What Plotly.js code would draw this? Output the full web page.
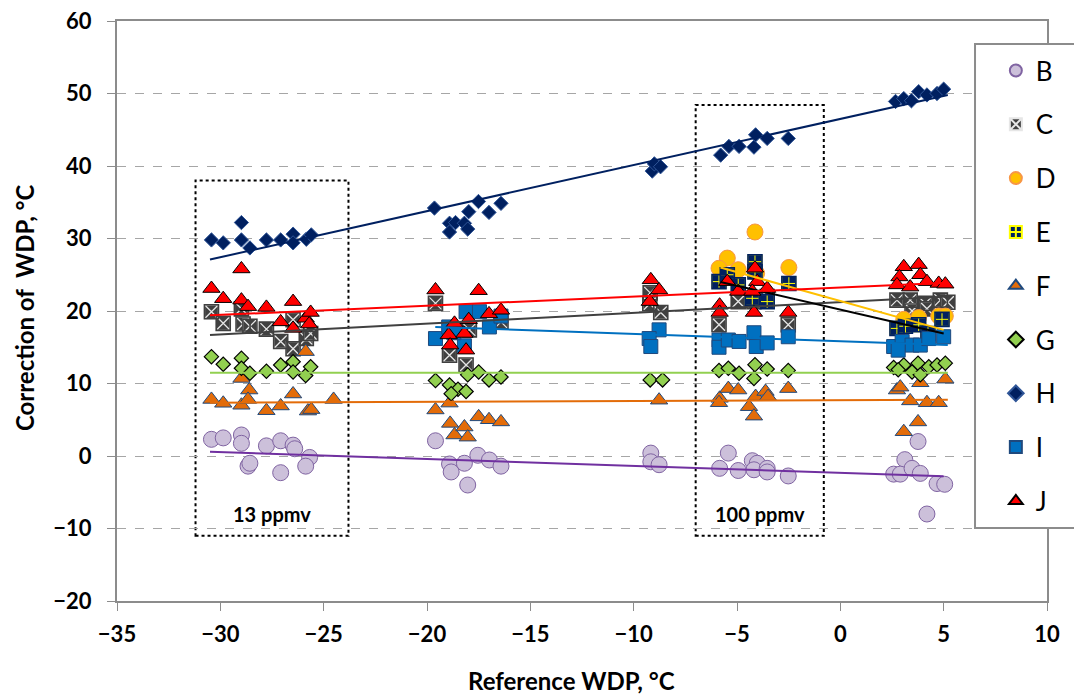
<!DOCTYPE html>
<html><head><meta charset="utf-8">
<script src="https://cdn.plot.ly/plotly-3.0.1.min.js"></script>
<style>body{margin:0;background:#fff}#chart{width:1074px;height:699px}</style>
</head><body><div id="chart"></div>
<script>
// ---- data ----
const seriesNames = ['B','C','D','E','F','G','H','I','J'];

const bX = [-30.43,-29.86,-28.98,-28.98,-28.66,-28.57,-27.77,-27.08,-26.48,-26.4,-25.68,-25.87,-27.08,
            -19.59,-18.91,-18.83,-18.19,-18.03,-17.54,-16.98,-16.42,
            -9.17,-9.17,-8.77,
            -5.42,-5.84,-4.94,-4.26,-4.02,-4.18,-3.54,-3.54,-2.52,
            3.76,3.12,2.58,2.9,3.47,3.87,4.68,5.05,4.19];
const bY = [2.3,2.5,2.9,1.75,-1.4,-1.0,1.4,2.1,1.5,1.0,-0.2,-1.4,-2.3,
            2.1,-1.1,-2.2,-1.0,-4.0,0.1,-0.55,-1.4,
            0.4,-0.8,-1.2,
            0.4,-1.7,-2.0,-0.65,-1.0,-1.9,-1.7,-2.2,-2.75,
            2.0,-0.5,-2.5,-2.5,-1.7,-2.4,-3.8,-3.9,-8.0];

const cX = [-30.43,-29.86,-28.98,-28.9,-28.57,-27.77,-27.08,-26.48,-26.48,-25.84,-25.63,
            -19.59,-16.42,-17.95,-18.91,-18.11,
            -9.2,-9.22,-8.69,
            -4.94,-5.87,-2.52,-4.18,-3.54,
            2.74,3.38,4.11,4.84,5.2,3.47,4.19];
const cY = [19.9,18.3,20.3,18.2,17.9,17.5,15.8,18.8,14.8,16.2,16.9,
            21.05,18.5,17.4,13.9,12.55,
            22.5,21.0,19.8,
            21.3,18.1,18.1,21.3,22.0,
            21.5,21.5,21.05,21.5,21.2,20.0,20.3];

const dX = [-4.13,-5.47,-5.87,-4.94,-2.49,-4.05, 3.07,3.79,4.76,5.08];
const dY = [30.9,27.3,25.9,25.7,26.0,25.2, 18.85,19.1,19.3,19.3];

const eX = [-5.87,-5.47,-4.94,-4.13,-4.13,-4.26,-3.54,-2.49, 2.74,3.15,3.79,4.24,4.92];
const eY = [24.05,25.0,23.6,26.8,25.4,21.75,21.3,23.8, 17.6,17.9,18.1,16.9,18.85];

const fX = [-30.43,-29.86,-28.98,-28.98,-28.6,-28.66,-27.77,-27.08,-26.48,-25.76,-25.6,-24.52,-25.87,
            -19.59,-18.91,-18.88,-18.67,-18.19,-18.03,-17.5,-17.0,-16.42,
            -8.77,
            -5.84,-5.87,-5.42,-4.94,-4.42,-4.18,-4.1,-3.62,-3.5,-2.52,
            2.74,2.9,3.38,4.19,4.76,5.08,3.87,3.07,3.76];
const fY = [7.8,7.27,10.7,7.0,9.1,7.8,6.25,6.9,8.55,6.2,6.4,7.8,14.4,
            6.35,7.3,4.5,2.9,4.0,2.6,5.4,5.0,4.7,
            7.7,
            7.96,7.35,9.3,9.1,6.8,5.5,8.2,8.9,8.2,9.3,
            9.1,9.5,7.6,7.35,7.35,10.6,10.1,3.35,4.7];

const gX = [-30.43,-29.86,-28.98,-28.98,-28.57,-27.77,-27.08,-26.48,-26.48,-25.87,-25.63,
            -19.59,-18.91,-18.5,-18.83,-18.11,-18.03,-17.5,-17.0,-16.42,
            -9.2,-8.6,
            -5.87,-5.42,-4.9,-4.13,-4.18,-3.54,-2.52,
            2.58,3.07,3.47,3.76,3.87,4.28,4.68,5.08,2.8];
const gY = [13.7,12.65,13.5,12.1,11.4,11.7,12.55,13.0,11.6,11.1,12.3,
            10.4,9.8,9.2,8.6,8.9,11.2,11.6,10.5,10.9,
            10.5,10.5,
            11.8,12.1,11.4,12.6,10.7,12.0,11.8,
            12.2,12.55,11.6,12.8,11.2,12.3,12.55,12.8,11.9];

const hX = [-30.43,-29.86,-28.98,-28.98,-28.57,-27.77,-27.08,-26.48,-26.48,-25.84,-25.6,
            -19.64,-18.91,-18.62,-18.91,-18.19,-18.03,-17.98,-17.51,-17.0,-16.42,
            -9.1,-9.0,-8.7,
            -5.79,-5.39,-4.9,-4.18,-4.1,-3.54,-2.52,
            2.67,3.07,3.44,3.79,4.19,4.68,5.0];
const hY = [29.8,29.4,32.2,29.8,28.7,29.8,29.8,30.6,29.4,29.9,30.5,
            34.2,32.1,32.2,30.9,32.1,31.3,33.7,35.1,33.6,34.85,
            39.3,40.3,39.9,
            41.5,42.7,42.7,42.6,44.3,43.8,43.8,
            48.9,49.3,49.0,50.25,49.8,50.0,50.6];

const iX = [-19.59,-18.95,-18.11,-17.46,-16.98,-16.42,-18.19,-18.7,
            -8.77,-9.25,-9.17,
            -5.87,-5.87,-5.42,-4.9,-4.18,-4.07,-3.54,-2.52,
            2.58,2.99,3.47,3.87,4.28,5.0,2.8];
const iY = [16.2,17.8,19.9,19.9,17.8,19.3,15.2,17.0,
            17.4,16.2,15.1,
            16.0,15.0,16.0,15.8,17.0,15.1,15.6,16.45,
            15.1,15.8,15.3,15.3,16.2,16.45,14.6];

const jX = [-30.43,-29.86,-28.98,-28.98,-28.66,-27.77,-27.08,-26.48,-26.48,-25.87,-25.63,-25.7,
            -19.59,-17.5,-18.67,-17.98,-17.0,-16.42,-18.95,-18.19,-18.88,-18.11,
            -9.17,-8.77,-9.22,
            -5.47,-4.94,-4.13,-4.02,-3.54,-5.84,-5.84,-4.18,-2.52,-4.26,
            3.07,3.79,2.86,3.87,2.74,3.38,4.19,4.76,5.08];
const jY = [23.1,21.7,25.8,21.5,20.6,20.5,18.5,21.3,17.6,19.0,19.8,18.2,
            22.9,22.8,18.3,18.8,19.6,20.1,16.7,16.9,15.3,14.6,
            24.3,22.9,21.3,
            24.05,22.7,25.9,24.05,23.1,20.8,19.8,19.8,19.8,22.7,
            26.1,26.4,24.7,25.0,23.6,23.3,24.05,23.8,23.7];

// trend line end points
const trendB = {x:[-30.5,5.0], y:[0.6,-2.8]};
const trendC = {x:[-30.5,5.2], y:[16.7,22.0]};
const trendD = {x:[-5.8,5.0],  y:[26.0,17.4]};
const trendE = {x:[-5.8,5.0],  y:[24.0,16.9]};
const trendF = {x:[-30.5,5.2], y:[7.35,7.75]};
const trendG = {x:[-30.5,5.2], y:[11.5,11.5]};
const trendH = {x:[-30.5,5.2], y:[27.1,49.8]};
const trendI = {x:[-19.6,5.2], y:[17.8,15.3]};
const trendJ = {x:[-30.5,5.2], y:[19.4,23.9]};

const boxLabels = ['13 ppmv','100 ppmv'];
const xTitle = 'Reference WDP, °C';
const yTitle = 'Correction of\u00a0 WDP, °C';

// ---- styles ----
const FONT = 'Lato, "Open Sans", sans-serif';
const styles = {
  B:{symbol:'circle', size:16, color:'#ccc0da', line:'#8064a2', lw:1},
  C:{symbol:'square-x', size:14, color:'#404040', line:'#e6e6e6', lw:1.3, frame:'#404040'},
  D:{symbol:'circle', size:16, color:'#ffc000', line:'#f79646', lw:1},
  E:{symbol:'square-cross', size:14, color:'#002060', line:'#ffff00', lw:1, frame:'#002060'},
  F:{symbol:'triangle-up', size:15, color:'#e36c09', line:'#1f497d', lw:1},
  G:{symbol:'diamond', size:11, color:'#92d050', line:'#000000', lw:1.2},
  H:{symbol:'diamond', size:11, color:'#002060', line:'#2f5597', lw:1},
  I:{symbol:'square', size:14, color:'#0070c0', line:'#1f497d', lw:1},
  J:{symbol:'triangle-up', size:15, color:'#ff0000', line:'#000000', lw:1}
};
const lineColors = {B:'#7030a0',C:'#404040',D:'#ffc000',E:'#000000',F:'#e36c09',G:'#92d050',H:'#002060',I:'#0070c0',J:'#ff0000'};
const pts = {B:[bX,bY],C:[cX,cY],D:[dX,dY],E:[eX,eY],F:[fX,fY],G:[gX,gY],H:[hX,hY],I:[iX,iY],J:[jX,jY]};
const trends = {B:trendB,C:trendC,D:trendD,E:trendE,F:trendF,G:trendG,H:trendH,I:trendI,J:trendJ};

const traces = [];
seriesNames.forEach(n => {
  const s = styles[n];
  traces.push({
    type:'scatter', mode:'markers', name:n, x:pts[n][0], y:pts[n][1],
    legendgroup:n,
    marker:{symbol:s.symbol, size:s.size, color:s.color, line:{color:s.line, width:s.lw}},
    hoverinfo:'x+y+name'
  });
  if (s.frame) {
    traces.push({
      type:'scatter', mode:'markers', x:pts[n][0], y:pts[n][1], showlegend:false,
      legendgroup:n, hoverinfo:'skip',
      marker:{symbol:'square-open', size:s.size, color:s.frame, line:{width:1.6}}
    });
  }
});
seriesNames.forEach(n => {
  traces.push({
    type:'scatter', mode:'lines', x:trends[n].x, y:trends[n].y, showlegend:false,
    legendgroup:n, line:{color:lineColors[n], width:2}, hoverinfo:'skip'
  });
});

const layout = {
  width:1074, height:699,
  margin:{l:117, r:27, t:21, b:98},
  paper_bgcolor:'#ffffff', plot_bgcolor:'#ffffff',
  font:{family:FONT, color:'#000'},
  showlegend:true,
  legend:{x:0.945, y:0.955, xanchor:'left', yanchor:'top', bgcolor:'rgba(0,0,0,0)',
          borderwidth:0, font:{family:FONT, size:26, color:'#000'},
          traceorder:'grouped', tracegroupgap:17, itemsizing:'constant'},
  xaxis:{range:[-35,10], tick0:-35, dtick:5, showgrid:false, zeroline:false,
         showline:true, mirror:true, linecolor:'#8c8c8c', linewidth:2,
         ticks:'outside', ticklen:8, tickwidth:1, tickcolor:'#8c8c8c', ticklabelstandoff:5,
         tickfont:{family:FONT, size:22, weight:'bold', color:'#000'}},
  yaxis:{range:[-20,60], tick0:-20, dtick:10, showgrid:true, gridcolor:'#a6a6a6', griddash:'dash', gridwidth:1,
         zeroline:false, showline:true, mirror:true, linecolor:'#8c8c8c', linewidth:2,
         ticks:'outside', ticklen:8, tickwidth:1, tickcolor:'#8c8c8c', ticklabelstandoff:11,
         tickfont:{family:FONT, size:22, weight:'bold', color:'#000'}},
  shapes:[
    {type:'rect', xref:'x', yref:'y', x0:-31.2, x1:-23.8, y0:-11, y1:38,
     line:{color:'#000', width:2, dash:'dot'}, fillcolor:'rgba(0,0,0,0)', layer:'below'},
    {type:'rect', xref:'x', yref:'y', x0:-7.0, x1:-0.8, y0:-11, y1:48.4,
     line:{color:'#000', width:2, dash:'dot'}, fillcolor:'rgba(0,0,0,0)', layer:'below'},
    {type:'rect', xref:'paper', yref:'paper', x0:0.9226, x1:1.045, y0:0.1259, y1:0.9603,
     line:{color:'#8c8c8c', width:2}, fillcolor:'#ffffff', layer:'above'}
  ],
  annotations:[
    {x:-27.5, y:-8, xref:'x', yref:'y', text:boxLabels[0], showarrow:false,
     font:{family:FONT, size:20, weight:'bold', color:'#000'}},
    {x:-3.9, y:-8, xref:'x', yref:'y', text:boxLabels[1], showarrow:false,
     font:{family:FONT, size:20, weight:'bold', color:'#000'}},
    {x:0.489, y:-0.137, xref:'paper', yref:'paper', xanchor:'center', yanchor:'middle',
     text:xTitle, showarrow:false, font:{family:FONT, size:24, weight:'bold', color:'#000'}},
    {x:-0.1, y:0.505, xref:'paper', yref:'paper', xanchor:'center', yanchor:'middle', textangle:-90,
     text:yTitle, showarrow:false, font:{family:FONT, size:24, weight:'bold', color:'#000'}}
  ]
};
Plotly.newPlot('chart', traces, layout, {displayModeBar:false});
</script></body></html>
